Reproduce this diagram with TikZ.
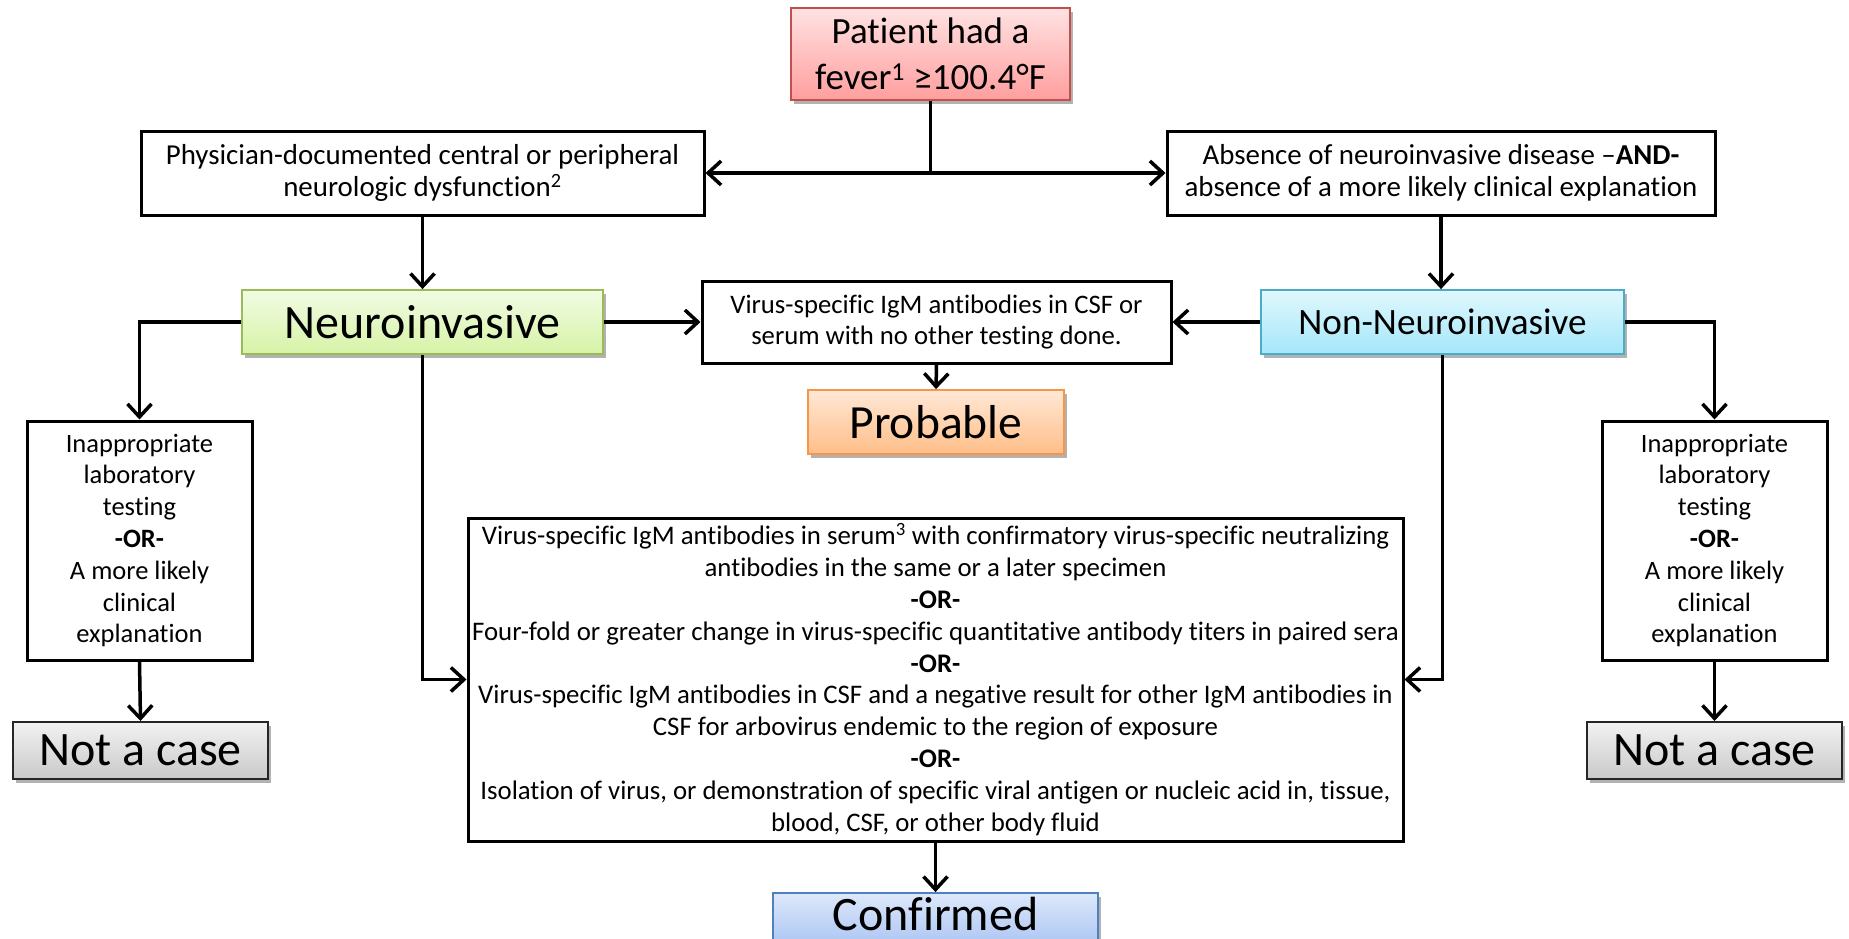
\documentclass[tikz,border=0pt]{standalone}
\usepackage{fontspec}
\setmainfont[Ligatures=NoCommon]{Carlito}
\usetikzlibrary{arrows.meta,shadows}
\definecolor{redtop}{HTML}{FFE2E2}
\definecolor{redbot}{HTML}{FF9E9E}
\definecolor{redline}{HTML}{C0504D}
\definecolor{greentop}{HTML}{F2FBE4}
\definecolor{greenbot}{HTML}{D6F3A6}
\definecolor{greenline}{HTML}{9BBB59}
\definecolor{cyantop}{HTML}{E0F8FD}
\definecolor{cyanbot}{HTML}{A4E6FA}
\definecolor{cyanline}{HTML}{4BACC6}
\definecolor{orangetop}{HTML}{FFE8D6}
\definecolor{orangebot}{HTML}{FFBE88}
\definecolor{orangeline}{HTML}{F79646}
\definecolor{graytop}{HTML}{F2F2F2}
\definecolor{graybot}{HTML}{C9C9C9}
\definecolor{bluetop}{HTML}{DEE8FB}
\definecolor{bluebot}{HTML}{A6C2F2}
\definecolor{blueline}{HTML}{4F81BD}
\tikzset{
  conn/.style={line width=3.5pt, -{Straight Barb[length=13pt,width=24pt]}},
  plain/.style={line width=3.5pt},
  whitebox/.style={draw=black, line width=3pt, fill=white, inner sep=0pt, align=center},
  colbox/.style={line width=1.8pt, inner sep=0pt, align=center,
     drop shadow={shadow xshift=3pt, shadow yshift=-4pt, opacity=0.3, fill=black}},
  redbox/.style={colbox, draw=redline, top color=redtop, bottom color=redbot},
  greenbox/.style={colbox, draw=greenline, top color=greentop, bottom color=greenbot},
  cyanbox/.style={colbox, draw=cyanline, top color=cyantop, bottom color=cyanbot},
  orangebox/.style={colbox, draw=orangeline, top color=orangetop, bottom color=orangebot},
  graybox/.style={colbox, draw=black!85, line width=2pt, top color=graytop, bottom color=graybot},
  bluebox/.style={colbox, draw=blueline, top color=bluetop, bottom color=bluebot},
  smalltxt/.style={font=\fontsize{28.9}{32}\selectfont},
  sidetxt/.style={font=\fontsize{26.5}{31.8}\selectfont},
  bigtxt/.style={font=\fontsize{26.8}{31.8}\selectfont},
  hugetxt/.style={font=\fontsize{48}{50}\selectfont},
}
\begin{document}
\begin{tikzpicture}[x=1pt,y=-1pt]
\useasboundingbox (0,0) rectangle (1849,938);
\node[redbox, minimum width=279pt, minimum height=92pt, font=\fontsize{37}{46}\selectfont] (top) at (930.5,54) {Patient had a\\fever\textsuperscript{1} ≥100.4°F};
\node[whitebox, smalltxt, minimum width=563pt, minimum height=84pt] (phys) at (422.5,173) {Physician-documented central or peripheral\\neurologic dysfunction\textsuperscript{2}};
\node[whitebox, smalltxt, minimum width=548pt, minimum height=84pt] (abs) at (1441,173) {Absence of neuroinvasive disease –\textbf{AND-}\\absence of a more likely clinical explanation};
\node[greenbox, hugetxt, minimum width=361pt, minimum height=64pt] (neuro) at (422.5,322) {Neuroinvasive};
\node[cyanbox, font=\fontsize{37.2}{40}\selectfont, minimum width=363pt, minimum height=64pt] (nonneuro) at (1442.5,322) {Non-Neuroinvasive};
\node[whitebox, font=\fontsize{26.7}{30.7}\selectfont, minimum width=469pt, minimum height=82pt] (mid) at (936.5,322) {Virus-specific IgM antibodies in CSF or\\serum with no other testing done.};
\node[orangebox, font=\fontsize{47.6}{50}\selectfont, minimum width=256pt, minimum height=64pt] (prob) at (936,422) {Probable};
\node[whitebox, sidetxt, minimum width=225pt, minimum height=239pt] (inapL) at (139.5,540.5) {Inappropriate\\laboratory\\testing\\\textbf{-OR-}\\A more likely\\clinical\\explanation};
\node[whitebox, sidetxt, minimum width=225pt, minimum height=239pt] (inapR) at (1714.5,540.5) {Inappropriate\\laboratory\\testing\\\textbf{-OR-}\\A more likely\\clinical\\explanation};
\node[graybox, hugetxt, minimum width=255pt, minimum height=57pt] (notL) at (140.5,750.5) {Not a case};
\node[graybox, hugetxt, minimum width=255pt, minimum height=57pt] (notR) at (1714.5,750.5) {Not a case};
\node[whitebox, bigtxt, minimum width=935pt, minimum height=323pt] (big) at (935.5,679.5) {Virus-specific IgM antibodies in serum\textsuperscript{3} with confirmatory virus-specific neutralizing\\antibodies in the same or a later specimen\\\textbf{-OR-}\\Four-fold or greater change in virus-specific quantitative antibody titers in paired sera\\\textbf{-OR-}\\Virus-specific IgM antibodies in CSF and a negative result for other IgM antibodies in\\CSF for arbovirus endemic to the region of exposure\\\textbf{-OR-}\\Isolation of virus, or demonstration of specific viral antigen or nucleic acid in, tissue,\\blood, CSF, or other body fluid};
\node[bluebox, hugetxt, minimum width=325pt, minimum height=0pt, text height=37pt, text depth=20pt, anchor=base] (conf) at (935.5,930) {Confirmed};
% connectors
\draw[plain] (top.south) -- (top.south |- phys.east);
\draw[conn, {Straight Barb[length=13pt,width=24pt]}-{Straight Barb[length=13pt,width=24pt]}] (phys.east) -- (abs.west);
\draw[conn] (phys.south) -- (neuro.north);
\draw[conn] (abs.south) -- (abs.south |- nonneuro.north);
\draw[conn] (neuro.east) -- (mid.west);
\draw[conn] (nonneuro.west) -- (mid.east);
\draw[conn] (mid.south) -- (prob.north);
\draw[conn] (neuro.west) -| (inapL.north);
\draw[conn] (nonneuro.east) -| (inapR.north);
\draw[conn] (inapL.south) -- (notL.north);
\draw[conn] (inapR.south) -- (notR.north);
\draw[conn] (neuro.south) |- (big.west);
\draw[conn] (nonneuro.south) |- (big.east);
\draw[conn] (big.south) -- (conf.north);
\end{tikzpicture}
\end{document}
